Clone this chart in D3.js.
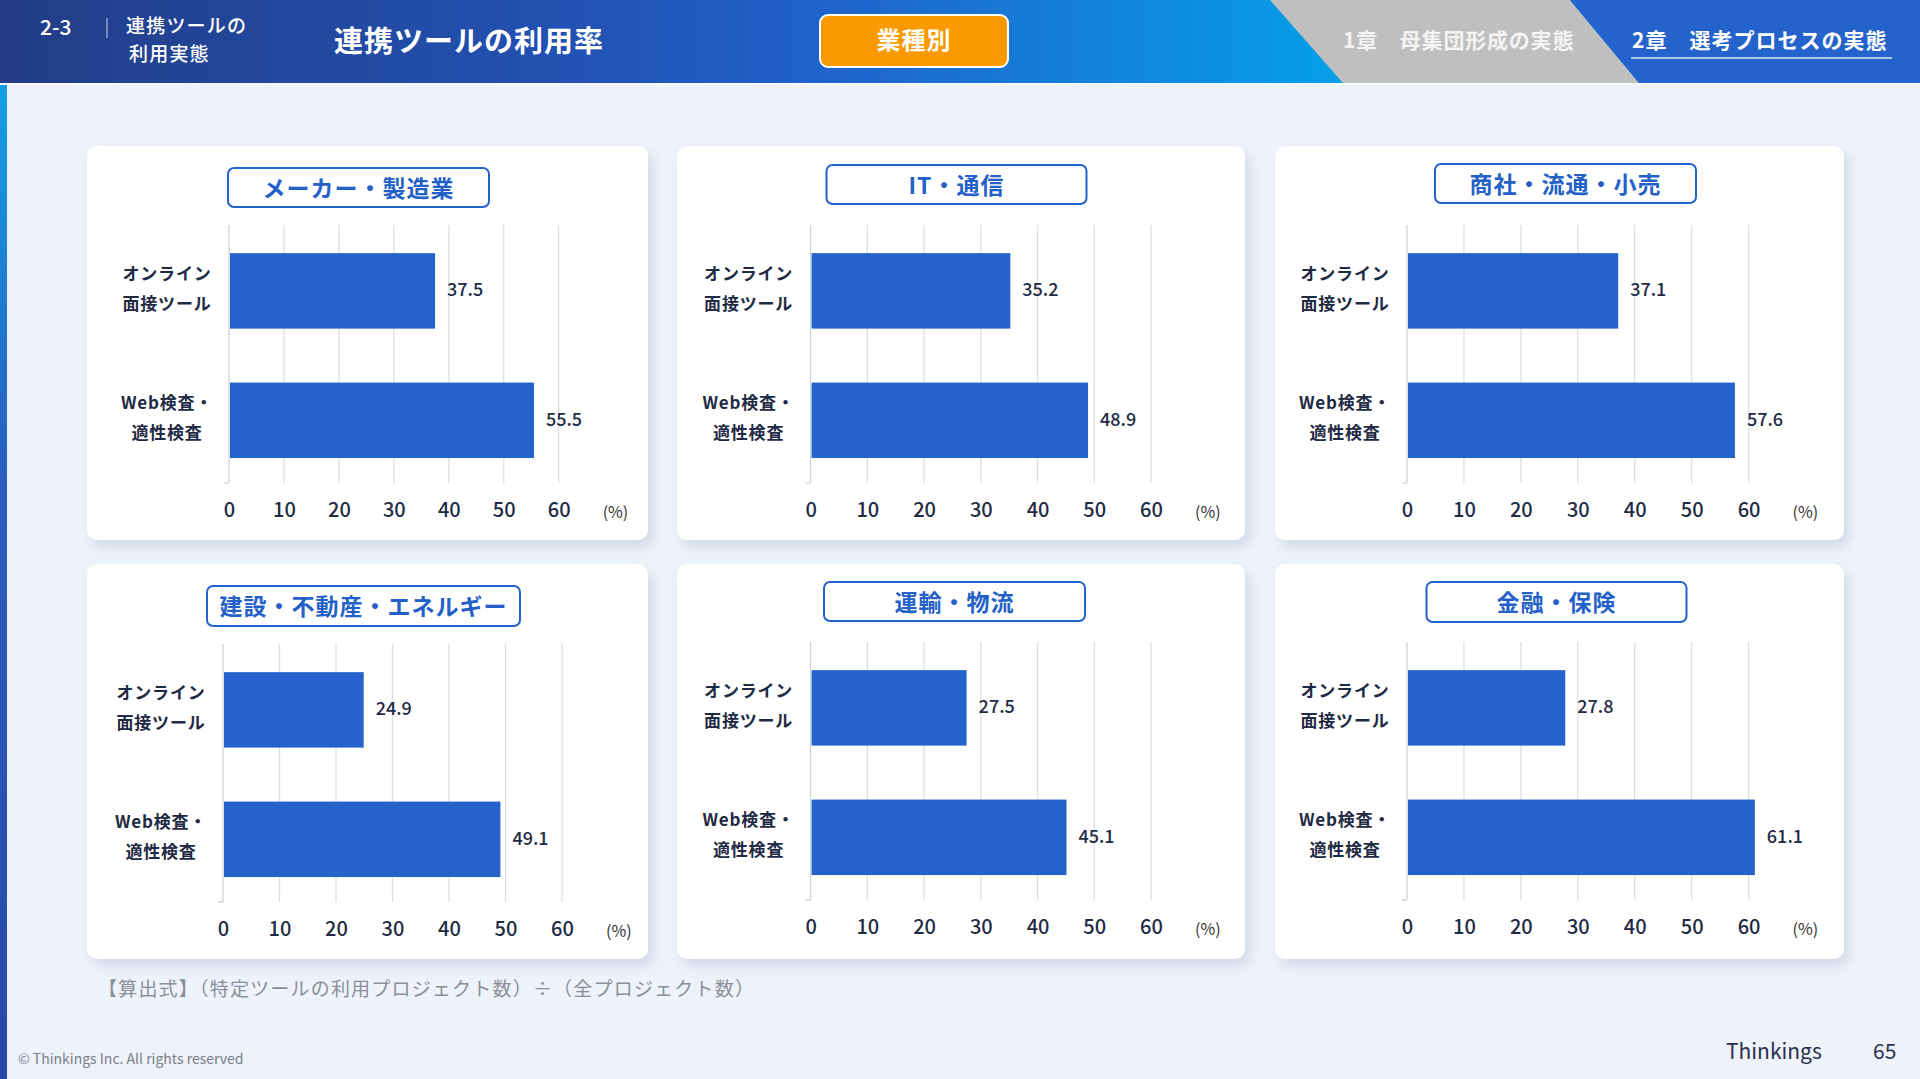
<!DOCTYPE html>
<html>
<head>
<meta charset="utf-8">
<script src="https://cdn.jsdelivr.net/npm/d3@7"></script>
<style>
  html, body { margin: 0; padding: 0; background: #eef2fa; }
  svg { display: block; font-family: "Noto Sans CJK JP", "Noto Sans", sans-serif; }
</style>
</head>
<body>
<div id="chart"></div>
<script>
// Chart values
const industries = [ 'メーカー・製造業', 'IT・通信', '商社・流通・小売', '建設・不動産・エネルギー', '運輸・物流', '金融・保険' ];
const categories = [ 'オンライン面接ツール', 'Web検査・適性検査' ];
const categoryLines = [ [ 'オンライン', '面接ツール' ], [ 'Web検査・', '適性検査' ] ];
const onlineRates = [ 37.5, 35.2, 37.1, 24.9, 27.5, 27.8 ];
const webRates = [ 55.5, 48.9, 57.6, 49.1, 45.1, 61.1 ];
const xTicks = [ 0, 10, 20, 30, 40, 50, 60 ];

// Panel layout (card box, plot left / width, title box relative to card)
const layout = [
  { x: 87,   y: 146, w: 561, h: 394, px: 142,   pw: 329.7, tx: 141,   ty: 22, tw: 261, th: 39, dy: 0 },
  { x: 677,  y: 146, w: 568, h: 394, px: 133.6, pw: 340.4, tx: 149.5, ty: 19, tw: 260, th: 39, dy: 0 },
  { x: 1275, y: 146, w: 569, h: 394, px: 132,   pw: 341.6, tx: 160,   ty: 18, tw: 261, th: 39, dy: 0 },
  { x: 87,   y: 564, w: 561, h: 395, px: 136,   pw: 339,   tx: 120,   ty: 22, tw: 313, th: 40, dy: 1 },
  { x: 677,  y: 564, w: 568, h: 395, px: 133.6, pw: 340.4, tx: 147,   ty: 18, tw: 261, th: 39, dy: -1 },
  { x: 1275, y: 564, w: 569, h: 395, px: 132,   pw: 341.6, tx: 151.5, ty: 18, tw: 260, th: 40, dy: -1 }
];

const W = 1920, H = 1079;
const barColor = '#2563cc';
const textColor = '#1f2a44';

const svg = d3.select( '#chart' ).append( 'svg' )
  .attr( 'width', W )
  .attr( 'height', H );

const defs = svg.append( 'defs' );
const hg = defs.append( 'linearGradient' ).attr( 'id', 'headGrad' )
  .attr( 'x1', 0 ).attr( 'x2', 1 ).attr( 'y1', 0 ).attr( 'y2', 0 );
hg.append( 'stop' ).attr( 'offset', '0%' ).attr( 'stop-color', '#233d86' );
hg.append( 'stop' ).attr( 'offset', '30%' ).attr( 'stop-color', '#2252b4' );
hg.append( 'stop' ).attr( 'offset', '45%' ).attr( 'stop-color', '#1f66cf' );
hg.append( 'stop' ).attr( 'offset', '70%' ).attr( 'stop-color', '#05a0e8' );
hg.append( 'stop' ).attr( 'offset', '100%' ).attr( 'stop-color', '#05a0e8' );

const sg = defs.append( 'linearGradient' ).attr( 'id', 'stripGrad' )
  .attr( 'x1', 0 ).attr( 'x2', 0 ).attr( 'y1', 0 ).attr( 'y2', 1 );
sg.append( 'stop' ).attr( 'offset', '0%' ).attr( 'stop-color', '#12a0e6' );
sg.append( 'stop' ).attr( 'offset', '40%' ).attr( 'stop-color', '#2a5cc0' );
sg.append( 'stop' ).attr( 'offset', '100%' ).attr( 'stop-color', '#2a48a6' );

const shadow = defs.append( 'filter' ).attr( 'id', 'shadow' )
  .attr( 'x', '-10%' ).attr( 'y', '-10%' ).attr( 'width', '125%' ).attr( 'height', '125%' );
shadow.append( 'feDropShadow' )
  .attr( 'dx', 5 ).attr( 'dy', 7 ).attr( 'stdDeviation', 6 )
  .attr( 'flood-color', '#8a96b8' ).attr( 'flood-opacity', 0.28 );

// Background
svg.append( 'rect' ).attr( 'width', W ).attr( 'height', H ).attr( 'fill', '#eef2fa' );
svg.append( 'rect' ).attr( 'x', 0 ).attr( 'y', 83 ).attr( 'width', 7 ).attr( 'height', H - 83 )
  .attr( 'fill', 'url(#stripGrad)' );

// Header band
svg.append( 'rect' ).attr( 'width', W ).attr( 'height', 83 ).attr( 'fill', 'url(#headGrad)' );
svg.append( 'polygon' ).attr( 'points', '1270,0 1570,0 1639,83 1343,83' ).attr( 'fill', '#bfbfbf' );
svg.append( 'polygon' ).attr( 'points', '1570,0 1920,0 1920,83 1639,83' ).attr( 'fill', '#2563cc' );
svg.append( 'rect' ).attr( 'x', 0 ).attr( 'y', 83 ).attr( 'width', W ).attr( 'height', 2 ).attr( 'fill', '#f6f8fd' );

svg.append( 'text' ).attr( 'x', 40 ).attr( 'y', 28 ).attr( 'dy', '0.35em' )
  .attr( 'fill', '#fff' ).attr( 'font-size', 21 ).attr( 'font-weight', 500 ).text( '2-3' );
svg.append( 'line' ).attr( 'x1', 107 ).attr( 'x2', 107 ).attr( 'y1', 18 ).attr( 'y2', 38 )
  .attr( 'stroke', '#c8d2ea' ).attr( 'stroke-width', 1 );
svg.append( 'text' ).attr( 'x', 126 ).attr( 'y', 26 ).attr( 'dy', '0.35em' )
  .attr( 'fill', '#fff' ).attr( 'font-size', 19 ).attr( 'font-weight', 500 ).attr( 'letter-spacing', 1.2 ).text( '連携ツールの' );
svg.append( 'text' ).attr( 'x', 129 ).attr( 'y', 54 ).attr( 'dy', '0.35em' )
  .attr( 'fill', '#fff' ).attr( 'font-size', 19 ).attr( 'font-weight', 500 ).attr( 'letter-spacing', 1.2 ).text( '利用実態' );
svg.append( 'text' ).attr( 'x', 334 ).attr( 'y', 42 ).attr( 'dy', '0.35em' )
  .attr( 'fill', '#fff' ).attr( 'font-size', 29 ).attr( 'font-weight', 700 ).attr( 'letter-spacing', 1 ).text( '連携ツールの利用率' );

svg.append( 'rect' ).attr( 'x', 820 ).attr( 'y', 15 ).attr( 'width', 188 ).attr( 'height', 52 )
  .attr( 'rx', 8 ).attr( 'fill', '#fb9a00' ).attr( 'stroke', '#fff' ).attr( 'stroke-width', 2 );
svg.append( 'text' ).attr( 'x', 914 ).attr( 'y', 41 ).attr( 'dy', '0.35em' ).attr( 'text-anchor', 'middle' )
  .attr( 'fill', '#fff' ).attr( 'font-size', 24 ).attr( 'font-weight', 700 ).attr( 'letter-spacing', 1 ).text( '業種別' );

svg.append( 'text' ).attr( 'x', 1343 ).attr( 'y', 41 ).attr( 'dy', '0.35em' )
  .attr( 'fill', '#f4f4f4' ).attr( 'font-size', 21 ).attr( 'font-weight', 700 ).attr( 'letter-spacing', 0.8 ).text( '1章　母集団形成の実態' );
svg.append( 'text' ).attr( 'x', 1632 ).attr( 'y', 41 ).attr( 'dy', '0.35em' )
  .attr( 'fill', '#fff' ).attr( 'font-size', 21 ).attr( 'font-weight', 700 ).attr( 'letter-spacing', 1 ).text( '2章　選考プロセスの実態' );
svg.append( 'line' ).attr( 'x1', 1631 ).attr( 'x2', 1892 ).attr( 'y1', 58 ).attr( 'y2', 58 )
  .attr( 'stroke', '#dfe7f7' ).attr( 'stroke-width', 1.5 );

// Panels
industries.forEach( function( name, i ) {
  const L = layout[ i ];
  const values = [ onlineRates[ i ], webRates[ i ] ];

  const g = svg.append( 'g' ).attr( 'transform', 'translate(' + L.x + ',' + L.y + ')' );
  g.append( 'rect' ).attr( 'width', L.w ).attr( 'height', L.h ).attr( 'rx', 10 )
    .attr( 'fill', '#fff' ).attr( 'filter', 'url(#shadow)' );

  // title box
  g.append( 'rect' ).attr( 'x', L.tx ).attr( 'y', L.ty ).attr( 'width', L.tw ).attr( 'height', L.th )
    .attr( 'rx', 6 ).attr( 'fill', '#fff' ).attr( 'stroke', barColor ).attr( 'stroke-width', 2 );
  g.append( 'text' ).attr( 'x', L.tx + L.tw / 2 ).attr( 'y', L.ty + L.th / 2 + 1 ).attr( 'dy', '0.35em' )
    .attr( 'text-anchor', 'middle' ).attr( 'fill', '#2360c8' ).attr( 'font-size', 23 ).attr( 'font-weight', 700 )
    .attr( 'letter-spacing', 1 ).text( name );

  const plot = g.append( 'g' ).attr( 'transform', 'translate(' + L.px + ',' + ( 79 + L.dy ) + ')' );
  const plotH = 258;

  const x = d3.scaleLinear().domain( [ 0, 60 ] ).range( [ 0, L.pw ] );
  const y = d3.scaleBand().domain( categories ).range( [ 0, plotH ] )
    .paddingInner( 0.417 ).paddingOuter( 0.205 ).align( 0.53 );

  // vertical grid
  plot.append( 'g' )
    .selectAll( 'line' )
    .data( xTicks )
    .enter().append( 'line' )
      .attr( 'x1', function( d ) { return x( d ); } )
      .attr( 'x2', function( d ) { return x( d ); } )
      .attr( 'y1', 0 )
      .attr( 'y2', plotH )
      .attr( 'stroke', function( d ) { return d === 0 ? '#cfd3da' : '#dcdfe4'; } )
      .attr( 'stroke-width', 1.3 );
  plot.append( 'line' ).attr( 'x1', -5 ).attr( 'x2', 0 ).attr( 'y1', plotH ).attr( 'y2', plotH )
    .attr( 'stroke', '#cfd3da' ).attr( 'stroke-width', 1.3 );

  // x axis labels
  const axis = plot.append( 'g' ).attr( 'transform', 'translate(0,' + ( plotH + 27 ) + ')' )
    .call( d3.axisBottom( x ).tickValues( xTicks ).tickSize( 0 ).tickPadding( 0 ) );
  axis.select( '.domain' ).remove();
  axis.selectAll( 'text' )
    .attr( 'dy', '0.35em' ).attr( 'y', 0 )
    .attr( 'fill', textColor ).attr( 'font-size', 20 ).attr( 'font-weight', 500 )
    .style( 'font-family', '"Noto Sans CJK JP", sans-serif' );
  plot.append( 'text' ).attr( 'x', x( 60 ) + 44 ).attr( 'y', plotH + 29 ).attr( 'dy', '0.35em' )
    .attr( 'fill', '#333' ).attr( 'font-size', 16 ).text( '(%)' );

  // bars
  plot.append( 'g' )
    .selectAll( 'rect' )
    .data( values )
    .enter().append( 'rect' )
      .attr( 'x', x( 0 ) + 1 )
      .attr( 'y', function( d, j ) { return y( categories[ j ] ); } )
      .attr( 'width', function( d ) { return x( d ) - x( 0 ) - 1; } )
      .attr( 'height', y.bandwidth() )
      .attr( 'fill', barColor );

  // value labels
  plot.append( 'g' )
    .selectAll( 'text' )
    .data( values )
    .enter().append( 'text' )
      .attr( 'x', function( d ) { return x( d ) + 12; } )
      .attr( 'y', function( d, j ) { return y( categories[ j ] ) + y.bandwidth() / 2 - 1; } )
      .attr( 'dy', '0.35em' )
      .attr( 'fill', textColor ).attr( 'font-size', 18 ).attr( 'font-weight', 500 )
      .text( function( d ) { return d.toFixed( 1 ); } );

  // category labels
  categoryLines.forEach( function( lines, j ) {
    const cy = y( categories[ j ] ) + y.bandwidth() / 2;
    lines.forEach( function( t, k ) {
      plot.append( 'text' ).attr( 'x', -62 ).attr( 'y', cy - 17 + k * 30 ).attr( 'dy', '0.35em' )
        .attr( 'text-anchor', 'middle' ).attr( 'fill', textColor ).attr( 'font-size', 17 )
        .attr( 'font-weight', 700 ).attr( 'letter-spacing', 0.8 ).text( t );
    } );
  } );
} );

// Footer
svg.append( 'text' ).attr( 'x', 98 ).attr( 'y', 989 ).attr( 'dy', '0.35em' )
  .attr( 'fill', '#8a8f99' ).attr( 'font-size', 19 ).attr( 'letter-spacing', 1.2 )
  .text( '【算出式】（特定ツールの利用プロジェクト数）÷（全プロジェクト数）' );
svg.append( 'text' ).attr( 'x', 18 ).attr( 'y', 1059 ).attr( 'dy', '0.35em' )
  .attr( 'fill', '#7a7f8a' ).attr( 'font-size', 14 ).text( '© Thinkings Inc. All rights reserved' );
svg.append( 'text' ).attr( 'x', 1726 ).attr( 'y', 1052 ).attr( 'dy', '0.35em' )
  .attr( 'fill', '#2a3050' ).attr( 'font-size', 21 ).text( 'Thinkings' );
svg.append( 'text' ).attr( 'x', 1873 ).attr( 'y', 1052 ).attr( 'dy', '0.35em' )
  .attr( 'fill', '#2a3050' ).attr( 'font-size', 21 ).text( '65' );
</script>
</body>
</html>
